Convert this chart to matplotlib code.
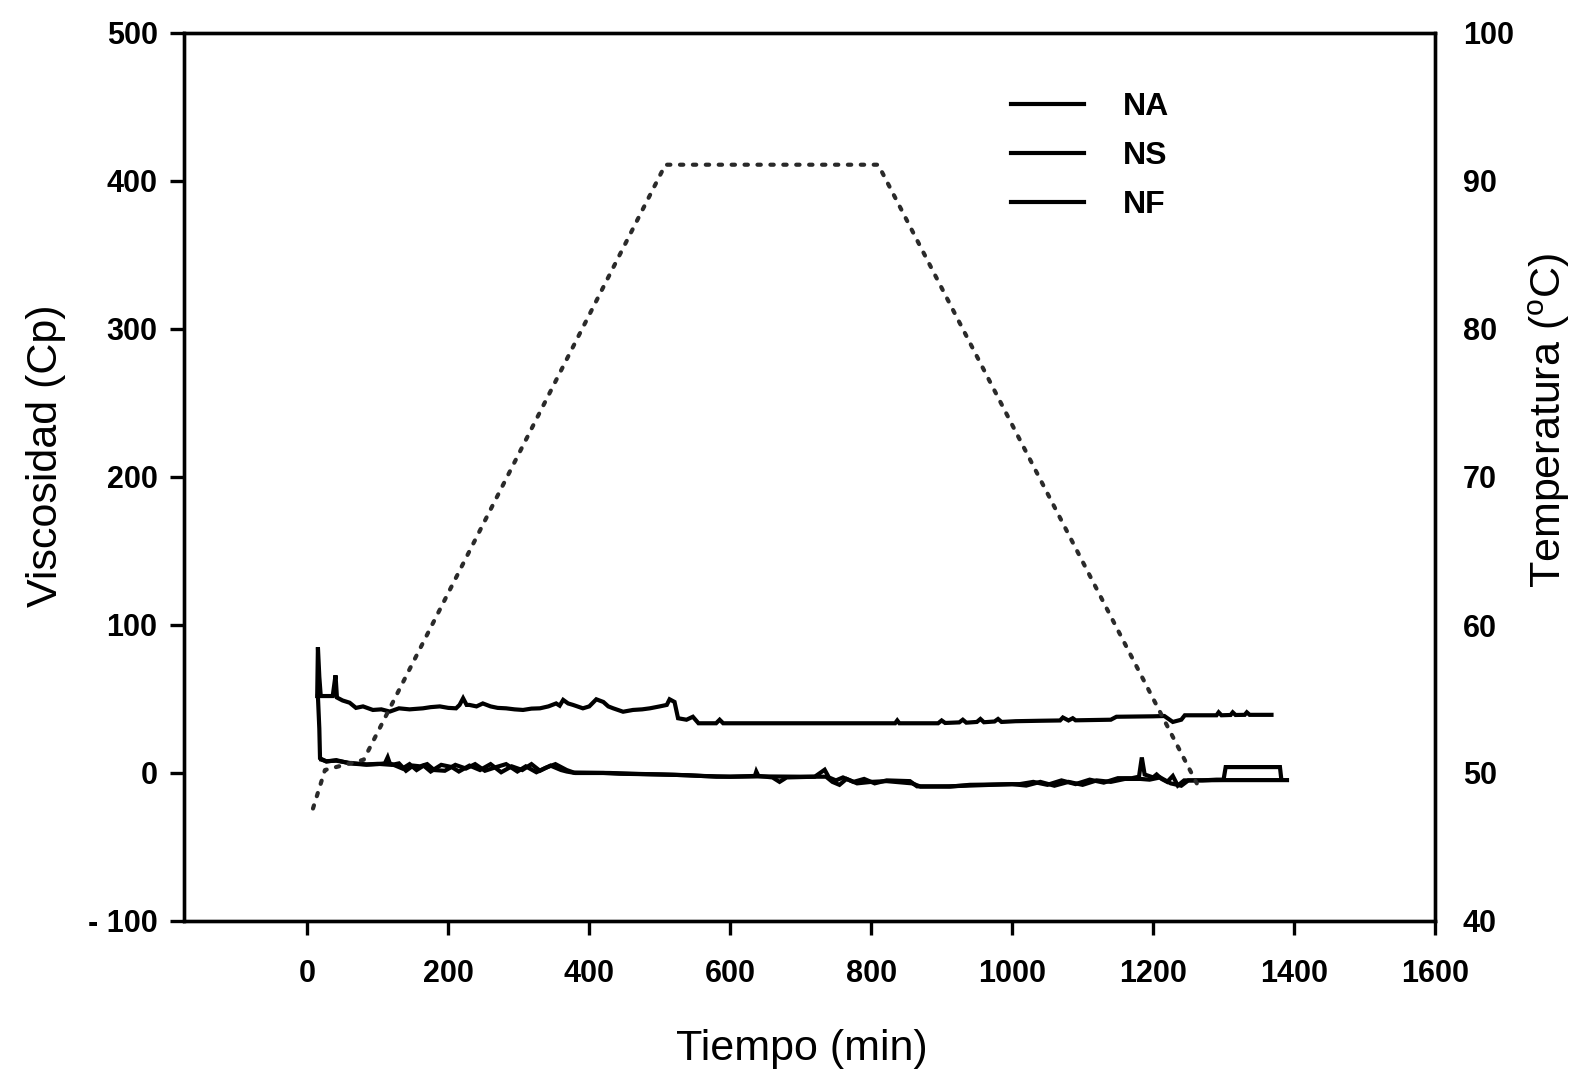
import matplotlib
matplotlib.use("Agg")
import matplotlib.pyplot as plt

plt.rcParams['font.family'] = ['Liberation Sans', 'DejaVu Sans']
plt.rcParams['mathtext.fontset'] = 'custom'
plt.rcParams['mathtext.rm'] = 'Liberation Sans'

# ---- data ----
x_ticks = [0, 200, 400, 600, 800, 1000, 1200, 1400, 1600]
x_ticklabels = ['0', '200', '400', '600', '800', '1000', '1200', '1400', '1600']
y_ticks = [-100, 0, 100, 200, 300, 400, 500]
y_ticklabels = ['- 100', '0', '100', '200', '300', '400', '500']
t_ticks = [40, 50, 60, 70, 80, 90, 100]
t_ticklabels = ['40', '50', '60', '70', '80', '90', '100']

# temperature programme (right axis)
temp_t = [8, 25, 80, 508, 810, 1262]
temp_v = [47.6, 50.2, 50.9, 91.1, 91.1, 49.3]

# NA viscosity
na_t = [14, 15, 17, 19, 36, 40, 42, 50, 60, 69, 79, 93, 105, 117, 130, 145, 164, 175,
        188, 200, 211, 216, 221, 226, 230, 240, 249, 260, 270, 282, 294, 306, 318, 330,
        342, 353, 358, 363, 370, 377, 391, 400, 410, 420, 427, 434, 448, 462, 475, 486,
        500, 510, 514, 521, 526, 538, 547, 555, 580, 585, 590, 834, 837, 840, 895, 900,
        905, 925, 930, 935, 950, 955, 960, 975, 980, 985, 1005, 1040, 1068, 1072, 1080,
        1086, 1090, 1140, 1148, 1200, 1216, 1228, 1240, 1245, 1290, 1293, 1297, 1310,
        1313, 1317, 1330, 1333, 1337, 1368]
na_v = [52, 85, 65, 52, 52, 66, 51, 49, 47.5, 44, 45, 42.6, 43, 41.5, 43.7, 43, 43.7, 44.5,
        45, 44, 43.7, 46, 50.5, 46, 46, 45, 47, 45, 44, 43.7, 43, 42.6, 43.5, 43.7,
        45, 47, 45.5, 49.4, 47, 46, 43.7, 45, 49.8, 48, 45, 43.7, 41.4, 42.6, 43, 43.7,
        45, 46, 49.8, 48, 37, 36, 38, 33.6, 33.6, 36, 33.6, 33.6, 35.5, 33.6, 33.6, 35.5,
        33.8, 34.2, 36, 34, 34.5, 36.5, 34.3, 34.8, 36.5, 34.5, 35, 35.3, 35.5, 37.5, 35.5,
        37, 35.6, 36, 38, 38.3, 38.5, 34.5, 36, 39, 39, 41, 39, 39.2,
        41, 39.2, 39.3, 41, 39.3, 39.3]

# NS viscosity
ns_t = [15, 17, 18, 27, 41, 60, 84, 100, 110, 114, 117, 125, 135, 145, 155, 165, 175, 190,
        205, 215, 230, 245, 260, 275, 290, 305, 318, 330, 345, 360, 368, 380, 420, 444,
        500, 540, 580, 600, 635, 637, 640, 660, 670, 680, 720, 734, 740, 750, 760, 775,
        790, 805, 822, 855, 865, 912, 940, 1011, 1030, 1050, 1070, 1090, 1110, 1130, 1150,
        1170, 1180, 1184, 1188, 1200, 1205, 1212, 1220, 1228, 1235, 1244, 1270, 1290, 1300,
        1303, 1380, 1382]
ns_v = [52, 30, 10, 7.7, 8.7, 6.5, 5.6, 6, 6.5, 10.6, 6.5, 5, 3, 6, 2, 5, 1, 5.5,
        4, 1, 5, 2, 6, 0.5, 4.5, 2, 6, 1.5, 5, 2, 1, 0, 0, -0.5,
        -1, -1.5, -2.5, -2.5, -2, 1, -2, -3, -6, -3, -2.5, 2.2, -3, -5, -3, -6,
        -4, -7, -5, -5.5, -9, -9.2, -8, -7.5, -6, -8, -5, -7.5, -4.5, -6.5, -3.5,
        -3.5, -2.5, 10.5, -1, -3, -1, -4, -6, -2, -8.5, -5, -5, -4.5, -4.5,
        4, 4, -4.5]

# NF viscosity
nf_t = [20, 27, 41, 60, 84, 100, 120, 130, 140, 150, 160, 170, 180, 195, 210, 225, 238, 252,
        268, 282, 298, 310, 325, 338, 352, 368, 378, 430, 460, 520, 560, 600, 640, 700,
        736, 745, 755, 765, 780, 800, 822, 858, 870, 910, 1000, 1020, 1040, 1060, 1080,
        1100, 1120, 1140, 1160, 1182, 1195, 1210, 1225, 1240, 1250, 1300, 1390]
nf_v = [9, 8, 8.3, 6.8, 5.8, 6.2, 5.5, 6.5, 1.5, 5, 4.5, 6, 2, 1.5, 5.5, 3, 6, 1.5,
        4, 6, 1, 4.5, 0.5, 3.5, 6, 2, 0.3, 0, -0.5, -1.2, -2, -2.5, -2.3, -2.5,
        -2.5, -6, -8, -4, -7, -6, -5.5, -7, -9.2, -9, -7.5, -8.5, -6, -8.6, -6,
        -8, -5, -6, -4, -4, -4.5, -3, -7, -8.6, -5, -4.8, -4.8]

# ---- figure ----
fig = plt.figure(figsize=(15.82, 10.83), dpi=100)
ax = fig.add_axes([184 / 1582, 1 - 921 / 1083, (1435 - 184) / 1582, (921 - 33) / 1083])

lw = 3.0
ax.plot(na_t, na_v, color='black', lw=lw, label='NA', solid_joinstyle='miter')
ax.plot(ns_t, ns_v, color='black', lw=lw, label='NS', solid_joinstyle='miter')
ax.plot(nf_t, nf_v, color='black', lw=lw, label='NF', solid_joinstyle='miter')

ax.set_xlim(-175, 1600)
ax.set_ylim(-100, 500)
ax.set_xticks(x_ticks)
ax.set_xticklabels(x_ticklabels, fontweight='bold')
ax.set_yticks(y_ticks)
ax.set_yticklabels(y_ticklabels, fontweight='bold')
for s in ax.spines.values():
    s.set_linewidth(2.4)
ax.tick_params(axis='both', direction='out', length=10, width=2.4, labelsize=22)
ax.tick_params(axis='x', pad=17)
ax.tick_params(axis='y', pad=9)
ax.set_xlabel('Tiempo (min)', fontsize=31)
ax.set_ylabel('Viscosidad (Cp)', fontsize=31)
ax.xaxis.set_label_coords(0.494, -0.122)
ax.yaxis.set_label_coords(-0.094, 0.524)

ax2 = ax.twinx()
ax2.plot(temp_t, temp_v, color='#2a2a2a', lw=3.0, linestyle=(0, (0.8, 2.3)),
         dash_capstyle='round')
ax2.set_ylim(40, 100)
ax2.set_yticks(t_ticks)
ax2.set_yticklabels(t_ticklabels, fontweight='bold')
ax2.tick_params(axis='y', length=0, labelsize=22, pad=20)
ax2.set_ylabel(r'Temperatura ($^{\mathrm{o}}$C)', fontsize=31)
ax2.yaxis.set_label_coords(1.073, 0.564)
for s in ax2.spines.values():
    s.set_linewidth(2.4)

leg = ax.legend(loc='upper left', bbox_to_anchor=(0.638, 0.966), frameon=False,
                prop={'size': 23, 'weight': 'bold'}, handlelength=2.3,
                handletextpad=1.2, labelspacing=0.6)
for h in leg.get_lines():
    h.set_linewidth(3.0)

fig.savefig('out.png', dpi=100, facecolor='white')
